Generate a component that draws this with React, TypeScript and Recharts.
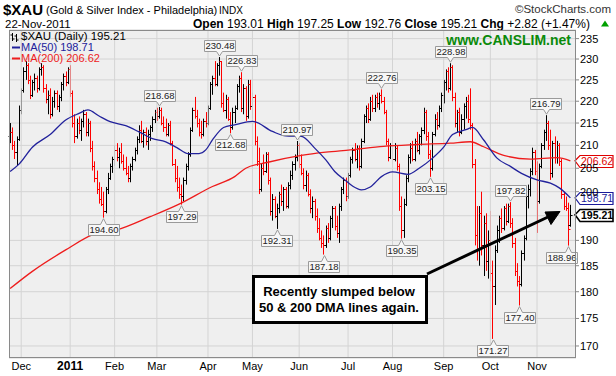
import React from 'react';
import { ComposedChart, Bar, Line, XAxis, YAxis, CartesianGrid, ReferenceLine, ReferenceDot } from 'recharts';

const FONT = '"Liberation Sans", Arial, Helvetica, sans-serif';
const W = 616;
const H = 376;
const PLOT_RIGHT = 576;

type OHLC = [number, number, number, number]; // open, high, low, close

const nov10: OHLC[] = [
  [212, 215, 210.5, 213], [213, 214, 209, 210], [210, 211, 207, 208.5], [208.5, 212, 205.5, 211.5], [211.5, 219, 211, 218],
];
const dec10: OHLC[] = [
  [218, 223, 217, 222.5], [222.5, 228, 222, 227], [227, 229.5, 225, 228.5], [228.5, 229, 224, 225], [225, 226, 220.5, 221.5],
  [221.5, 225, 221, 224.5], [224.5, 226.5, 222.5, 225.5], [225.5, 226, 222, 223], [223, 228, 222.5, 227.5], [227.5, 229, 226, 228],
  [228, 228.5, 222, 223], [223, 224, 219.5, 220.5], [220.5, 222.5, 217, 221.5], [221.5, 223, 216, 217], [217, 221, 216.5, 220],
  [220, 222.5, 218.5, 222], [222, 222.5, 218, 219], [219, 221.5, 217.5, 221], [221, 224.5, 220, 224], [224, 226.5, 222.5, 226],
  [226, 227, 223.5, 224.5], [224.5, 228, 224, 227.5],
];
const jan11: OHLC[] = [
  [227.5, 228.5, 221, 222], [222, 222.5, 214, 215], [215, 217, 210.5, 212], [212, 216, 211.5, 215], [215, 216.5, 212.5, 213.5],
  [213.5, 216, 211, 215.5], [215.5, 218, 214, 217], [217, 217.5, 212, 213], [213, 216, 212, 215], [215, 215.5, 208.5, 209.5],
  [209.5, 211, 204.5, 205.5], [205.5, 206.5, 202, 203], [203, 204.5, 199.5, 200.5], [200.5, 202, 197.5, 198.5], [198.5, 201, 197, 197.5],
  [197.5, 200, 194.6, 196], [196, 201, 195.5, 200.5], [200.5, 204, 199.5, 203], [203, 206, 202.5, 205.5], [205.5, 207.5, 204, 207],
];
const feb11: OHLC[] = [
  [207, 210, 205.5, 209], [209, 210.5, 206.5, 207.5], [207.5, 209.5, 205, 208.5], [208.5, 210.5, 206, 206.5], [206.5, 208, 204.5, 205],
  [205, 207.5, 203.5, 204], [204, 205.5, 202, 203], [203, 206, 202, 205.5], [205.5, 207.5, 204.5, 207], [207, 209.5, 206.5, 209],
  [209, 212, 208, 211.5], [211.5, 214.5, 210.5, 213.5], [213.5, 215.5, 210.5, 211], [211, 213.5, 209.5, 213], [213, 214, 210, 211],
  [211, 213.5, 209, 212.5], [212.5, 214.5, 211, 214], [214, 216.5, 213, 216], [216, 218, 215, 217.5],
];
const mar11: OHLC[] = [
  [217.5, 218.5, 215.5, 216.5], [216.5, 218.68, 216, 218], [218, 218.5, 214.5, 215], [215, 216.5, 213, 214], [214, 216, 212, 212.5],
  [212.5, 215, 212, 214.5], [214.5, 215.5, 210, 210.5], [210.5, 211, 205.5, 206], [206, 207, 202, 203], [203, 205.5, 200, 201],
  [201, 203, 198.5, 199.5], [199.5, 201.5, 197.29, 199], [199, 203, 198, 202.5], [202.5, 206, 201.5, 205.5], [205.5, 208.5, 204.5, 208],
  [208, 214, 207.5, 213.5], [213.5, 218.5, 213, 218], [218, 221, 216, 216.5], [216.5, 218, 214, 215], [215, 216, 212, 213],
  [213, 215.5, 211.5, 212.5], [212.5, 216, 212, 215.5], [215.5, 217.5, 214, 215],
];
const apr11: OHLC[] = [
  [215, 219, 214.5, 218.5], [218.5, 224.5, 218, 224], [224, 226, 221.5, 225.5], [225.5, 229.5, 223.5, 224], [224, 229, 223.5, 228.5],
  [228.5, 230.48, 226, 229.5], [229.5, 229.5, 218.5, 219.5], [219.5, 222, 217.5, 218], [218, 221.5, 216, 220.5], [220.5, 221, 215.5, 216],
  [216, 217.5, 212.68, 214], [214, 218.5, 213.5, 217.5], [217.5, 219, 215, 218.5], [218.5, 224, 218, 223.5], [223.5, 226, 222, 225.5],
  [225.5, 226.83, 217.5, 218.5], [218.5, 224, 217, 223], [223, 223.5, 215.5, 216.5], [216.5, 225, 216, 224], [224, 225, 218, 219],
];
const may11: OHLC[] = [
  [219, 222, 216, 221], [221, 221.5, 210, 211], [211, 212, 205.5, 206.5], [206.5, 209.5, 199.5, 200.5], [200.5, 206, 200, 205],
  [205, 208, 203.5, 204.5], [204.5, 208.5, 204, 208], [208, 208.5, 201.5, 202.5], [202.5, 203, 195, 196], [196, 199.5, 194, 198.5],
  [198.5, 199, 194.5, 195], [195, 197.5, 192.31, 196.5], [196.5, 200, 195.5, 199.5], [199.5, 201.5, 197, 198], [198, 201, 196, 200.5],
  [200.5, 201, 196.5, 197], [197, 202, 196.5, 201.5], [201.5, 204.5, 200.5, 203.5], [203.5, 206.5, 202.5, 206], [206, 208, 204.5, 207.5],
  [207.5, 210.97, 206.5, 210],
];
const jun11: OHLC[] = [
  [210, 210.5, 205, 206], [206, 208, 203.5, 204], [204, 205, 200.5, 201.5], [201.5, 204.5, 200, 203.5], [203.5, 204, 199, 199.5],
  [199.5, 200.5, 195.5, 196.5], [196.5, 199, 194.5, 198], [198, 198.5, 194, 195], [195, 196.5, 191.5, 192.5], [192.5, 194.5, 190, 190.5],
  [190.5, 192, 188.5, 189.5], [189.5, 191, 187.18, 189], [189, 193, 188.5, 192.5], [192.5, 193.5, 189.5, 190.5], [190.5, 195, 190, 194.5],
  [194.5, 197, 192.5, 196.5], [196.5, 197, 192, 193], [193, 195, 190.5, 191.5], [191.5, 197.5, 189.5, 197], [197, 201, 196, 200.5],
  [200.5, 203, 199.5, 202.5], [202.5, 203, 198, 199],
];
const jul11: OHLC[] = [
  [199, 204, 198.5, 203.5], [203.5, 207.5, 203, 207], [207, 209.5, 206, 209], [209, 210.5, 206.5, 207], [207, 210, 205, 209.5],
  [209.5, 210, 204.5, 205.5], [205.5, 211.5, 205, 211], [211, 217, 210.5, 216.5], [216.5, 219, 215, 218.5], [218.5, 219.5, 215, 216],
  [216, 221, 215.5, 220], [220, 221.5, 217.5, 218.5], [218.5, 221.5, 217.5, 221], [221, 222, 218.5, 219.5], [219.5, 222, 218, 221.5],
  [221.5, 222.76, 219.5, 220], [220, 221, 217, 217.5], [217.5, 218, 210, 211], [211, 211.5, 206.5, 207.5], [207.5, 210.5, 207, 210],
];
const aug11: OHLC[] = [
  [210, 211, 206, 207], [207, 210.5, 206.5, 209.5], [209.5, 210, 204.5, 205.5], [205.5, 206, 196, 197], [197, 199, 190.35, 192],
  [192, 198.5, 190.5, 197.5], [197.5, 203.5, 197, 203], [203, 208, 202, 207.5], [207.5, 210.5, 206, 209.5], [209.5, 211, 206.5, 207],
  [207, 211.5, 206.5, 211], [211, 213, 208.5, 209], [209, 212.5, 208, 212], [212, 214, 210, 213.5], [213.5, 218.5, 212.5, 217.5],
  [217.5, 218, 211, 212], [212, 213, 207, 208], [208, 209, 203.15, 205], [205, 213, 204.5, 212.5], [212.5, 217, 212, 216],
  [216, 217.5, 213.5, 214.5], [214.5, 219, 214, 218.5], [218.5, 222, 217.5, 221.5],
];
const sep11: OHLC[] = [
  [221.5, 225, 219.5, 224.5], [224.5, 227.5, 222.5, 227], [227, 228, 222, 223], [223, 228.98, 222.5, 228], [228, 228.5, 220, 221],
  [221, 222, 214, 215], [215, 218, 213, 217.5], [217.5, 218.5, 212, 213], [213, 217, 212.5, 216], [216, 219.5, 213.5, 219],
  [219, 221, 216, 220], [220, 221.5, 215, 216], [216, 223, 213.5, 214.5], [214.5, 215, 205, 206], [206, 207, 189, 191],
  [191, 197, 186, 188], [188, 197, 185, 195.5], [195.5, 200, 187, 189], [189, 195, 183, 193.5], [193.5, 195.5, 184, 186],
  [186, 192, 182.5, 190],
];
const oct11: OHLC[] = [
  [190, 196, 182, 183.5], [183.5, 186, 171.27, 181], [181, 189, 177.5, 188], [188, 193, 187.5, 192], [192, 195, 189.5, 194.5],
  [194.5, 196.5, 191.5, 192.5], [192.5, 197, 192, 196.5], [196.5, 197.5, 193, 194], [194, 197.5, 193.5, 197], [197, 197.82, 192.5, 193.5],
  [193.5, 194.5, 188.5, 189.5], [189.5, 190.5, 183, 184], [184, 185.5, 181, 182], [182, 183, 177.4, 181.5], [181.5, 188, 181, 187.5],
  [187.5, 191, 186, 190.5], [190.5, 199.5, 190, 199], [199, 201.5, 196.5, 200.5], [200.5, 205, 199, 204.5], [204.5, 209.5, 203.5, 208.5],
  [208.5, 209, 203.5, 204.5],
];
const nov11: OHLC[] = [
  [204.5, 206.5, 191.5, 198], [198, 206, 197.5, 205.5], [205.5, 210.5, 205, 210], [210, 213.5, 209, 213], [213, 216.79, 211, 215],
  [215, 215.5, 209, 210], [210, 213.5, 202.5, 204], [204, 211, 203, 210.5], [210.5, 212, 206, 207.5], [207.5, 211, 206, 210],
  [210, 210.5, 205.5, 206.5], [206.5, 207, 198.5, 199.5], [199.5, 200, 196.2, 197], [197, 199, 196, 196.5], [196.5, 197.7, 188.96, 192.39],
  [193.01, 197.25, 192.76, 195.21],
];

const monthStart = [5, 27, 47, 66, 89, 109, 130, 152, 172, 195, 216, 237];
const monthLabels = ['Dec', '2011', 'Feb', 'Mar', 'Apr', 'May', 'Jun', 'Jul', 'Aug', 'Sep', 'Oct', 'Nov'];
const yTicks = [170, 175, 180, 185, 190, 195, 200, 205, 210, 215, 220, 225, 230, 235];
const hiddenTickLabels = [195]; // covered by the last-close tag in the reference

// moving averages at sample bars: [bar index, value]
const ma50Pts: [number, number][] = [
  [0, 204.3], [4, 205.9], [10, 209.6], [18, 212.4], [25, 215.7], [31, 217.2], [35, 218.0], [40, 216.6], [45, 215.3],
  [52, 214.4], [58, 213.0], [64, 211.5], [70, 210.8], [75, 209.5], [80, 208.2], [85, 208.2], [88, 209.0], [91, 211.2],
  [96, 214.0], [101, 214.6], [109, 215.4], [118, 213.1], [124, 212.1], [131, 212.0], [137, 209.4], [142, 206.8],
  [146, 204.3], [151, 202.3], [154, 201.2], [158, 200.4], [162, 201.0], [167, 203.2], [172, 204.2], [179, 203.7],
  [184, 205.0], [190, 207.2], [195, 209.6], [199, 212.4], [205, 213.5], [208, 214.0], [213, 211.2], [219, 207.2],
  [225, 205.4], [230, 203.9], [237, 202.5], [243, 201.8], [247, 200.8], [252, 198.71],
];
const ma200Pts: [number, number][] = [
  [0, 180.6], [10, 183.9], [25, 188.1], [37, 191.1], [48, 192.1], [63, 194.8], [76, 197.4], [91, 201.1], [101, 203.2],
  [106, 205.0], [116, 206.3], [131, 207.8], [142, 208.5], [153, 209.0], [168, 209.8], [183, 210.2], [198, 210.5],
  [207, 210.8], [213, 209.7], [222, 207.8], [234, 207.0], [246, 207.3], [252, 206.62],
];

const peaks: { i: number; v: number; kind: 'high' | 'low' }[] = [
  { i: 42, v: 194.6, kind: 'low' }, { i: 67, v: 218.68, kind: 'high' }, { i: 77, v: 197.29, kind: 'low' },
  { i: 94, v: 230.48, kind: 'high' }, { i: 99, v: 212.68, kind: 'low' }, { i: 104, v: 226.83, kind: 'high' },
  { i: 120, v: 192.31, kind: 'low' }, { i: 129, v: 210.97, kind: 'high' }, { i: 141, v: 187.18, kind: 'low' },
  { i: 167, v: 222.76, kind: 'high' }, { i: 176, v: 190.35, kind: 'low' }, { i: 189, v: 203.15, kind: 'low' },
  { i: 198, v: 228.98, kind: 'high' }, { i: 217, v: 171.27, kind: 'low' }, { i: 225, v: 197.82, kind: 'high' },
  { i: 229, v: 177.4, kind: 'low' }, { i: 241, v: 216.79, kind: 'high' }, { i: 251, v: 188.96, kind: 'low' },
];

const lastClose = 195.21;
const lastMa50 = 198.71;
const lastMa200 = 206.62;

const allBars: OHLC[] = [
  ...nov10, ...dec10, ...jan11, ...feb11, ...mar11, ...apr11, ...may11, ...jun11, ...jul11, ...aug11, ...sep11, ...oct11, ...nov11,
];

const data: any[] = allBars.map(([o, h, l, c], i) => ({
  i,
  range: [l, h],
  o, h, l, c,
  up: i === 0 ? c >= o : c >= allBars[i - 1][3],
  ma50: null,
  ma200: null,
}));
ma50Pts.forEach(([i, v]) => { data[i].ma50 = v; });
ma200Pts.forEach(([i, v]) => { data[i].ma200 = v; });

const OhlcShape = (props: any) => {
  const { x, y, width, height, payload } = props;
  if (x == null || y == null || !payload) return null;
  const top = Math.min(y, y + height);
  const bot = Math.max(y, y + height);
  const cx = Math.round(x + width / 2) + 0.5;
  const lnH = Math.log(payload.h);
  const lnL = Math.log(payload.l);
  const yOf = (v: number) => (lnH === lnL ? top : top + ((lnH - Math.log(v)) / (lnH - lnL)) * (bot - top));
  const color = payload.up ? '#000000' : '#ff0000';
  const yo = Math.round(yOf(payload.o)) + 0.5;
  const yc = Math.round(yOf(payload.c)) + 0.5;
  return (
    <g stroke={color} strokeWidth={1} fill="none">
      <line x1={cx} x2={cx} y1={top} y2={bot} />
      <line x1={cx - 2} x2={cx} y1={yo} y2={yo} />
      <line x1={cx} x2={cx + 2} y1={yc} y2={yc} />
    </g>
  );
};

const MonthTick = (props: any) => {
  const { x, y, payload } = props;
  const k = monthStart.indexOf(Number(payload?.value));
  if (k < 0) return <g />;
  return (
    <text x={x} y={y + 12} textAnchor="middle" fontFamily={FONT} fontSize={k === 1 ? 12 : 11}
      fontWeight={k === 1 ? 'bold' : 'normal'} fill="#000">{monthLabels[k]}</text>
  );
};

const PriceTick = (props: any) => {
  const { x, y, payload } = props;
  const v = Number(payload?.value);
  if (hiddenTickLabels.includes(v)) return <g />;
  return (
    <text x={x} y={y + 4} textAnchor="start" fontFamily={FONT} fontSize={11} fill="#000">{v}</text>
  );
};

const PeakLabel = ({ cx, cy, v, kind }: any) => {
  if (cx == null || cy == null) return null;
  const w = 31;
  const h = 11;
  let bx = cx - w / 2;
  bx = Math.max(10, Math.min(bx, PLOT_RIGHT + 1 - w));
  bx = Math.round(bx) + 0.5;
  const px = Math.round(cx) + 0.5;
  let d: string;
  let by: number;
  if (kind === 'high') {
    by = Math.round(cy - 6 - h) + 0.5;
    const tip = cy - 1;
    d = `M${bx},${by} H${bx + w} V${by + h} H${px + 3} L${px},${tip} L${px - 3},${by + h} H${bx} Z`;
  } else {
    by = Math.round(cy + 6) + 0.5;
    const tip = cy + 1;
    d = `M${bx},${by} H${px - 3} L${px},${tip} L${px + 3},${by} H${bx + w} V${by + h} H${bx} Z`;
  }
  return (
    <g>
      <path d={d} fill="#f7f7f7" stroke="#9a9a9a" strokeWidth={1} />
      <text x={bx + w / 2} y={by + 8.5} textAnchor="middle" fontFamily={FONT} fontSize={9.5} fill="#222">{v.toFixed(2)}</text>
    </g>
  );
};

const ValueTag = ({ cy, v, color, bold }: any) => {
  if (cy == null) return null;
  const x0 = PLOT_RIGHT - 1;
  const w = 38;
  const h = 12;
  const t = Math.round(cy - h / 2) + 0.5;
  const d = `M${x0},${cy} L${x0 + 5},${t} H${x0 + w} V${t + h} H${x0 + 5} Z`;
  return (
    <g>
      <path d={d} fill="#ffffff" stroke={color} strokeWidth={bold ? 1.6 : 1.2} />
      <text x={x0 + 6} y={cy + 4} fontFamily={FONT} fontSize={10.5} fontWeight={bold ? 'bold' : 'normal'} fill={color}>{v.toFixed(2)}</text>
    </g>
  );
};

const Overlay = () => (
  <svg width={W} height={H} style={{ position: 'absolute', left: 0, top: 0, pointerEvents: 'none' }}>
    <text x={3} y={15} fontFamily={FONT} fontSize={15} fontWeight="bold" fill="#000">$XAU</text>
    <text x={46} y={14} fontFamily={FONT} fontSize={11} fill="#000">(Gold &amp; Silver Index - Philadelphia)</text>
    <text x={219} y={14} fontFamily={FONT} fontSize={10} fill="#000">INDX</text>
    <text x={611} y={13} textAnchor="end" fontFamily={FONT} fontSize={11.5} fill="#333">©StockCharts.com</text>
    <text x={5} y={27.5} fontFamily={FONT} fontSize={11.5} fill="#000">22-Nov-2011</text>
    <text x={193} y={27.5} fontFamily={FONT} fontSize={12} fill="#000">
      <tspan fontWeight="bold">Open</tspan><tspan> 193.01 </tspan>
      <tspan fontWeight="bold">High</tspan><tspan> 197.25 </tspan>
      <tspan fontWeight="bold">Low</tspan><tspan> 192.76 </tspan>
      <tspan fontWeight="bold">Close</tspan><tspan> 195.21 </tspan>
      <tspan fontWeight="bold">Chg</tspan><tspan> +2.82 (+1.47%)</tspan>
    </text>
    <path d="M601,26.5 L605,20.5 L609,26.5 Z" fill="#00a000" />
    <rect x={9.5} y={30.5} width={566} height={327} fill="none" stroke="#8a8a8a" strokeWidth={1} />
    <path d="M12.5,33 V41 M10.5,35 H12.5 M12.5,39 H14.5 M16.5,34 V42 M14.5,36 H16.5 M16.5,40 H18.5" stroke="#000" strokeWidth={1} />
    <text x={21} y={40} fontFamily={FONT} fontSize={11.5} fill="#000">$XAU (Daily) 195.21</text>
    <line x1={12} x2={20} y1={47.5} y2={47.5} stroke="#22229c" strokeWidth={2} />
    <text x={21} y={51} fontFamily={FONT} fontSize={11} fill="#22229c">MA(50) {lastMa50.toFixed(2)}</text>
    <line x1={12} x2={20} y1={58.5} y2={58.5} stroke="#ee1c1c" strokeWidth={2} />
    <text x={21} y={62} fontFamily={FONT} fontSize={11} fill="#ee1c1c">MA(200) {lastMa200.toFixed(2)}</text>
    <text x={571} y={44.5} textAnchor="end" fontFamily={FONT} fontSize={14} fontWeight="bold" fill="#0a8a0a">www.CANSLIM.net</text>
    <line x1={427} y1={274} x2={549} y2={216.5} stroke="#000" strokeWidth={3} />
    <path d="M560,211.5 L545,212 L551,224.5 Z" fill="#000" stroke="#000" strokeWidth={1} />
    <rect x={253.5} y={276.5} width={173} height={46} fill="#ffffff" stroke="#000" strokeWidth={3} />
    <text x={339} y={296} textAnchor="middle" fontFamily={FONT} fontSize={13} fontWeight="bold" fill="#000">Recently slumped below</text>
    <text x={339} y={312} textAnchor="middle" fontFamily={FONT} fontSize={13} fontWeight="bold" fill="#000">50 &amp; 200 DMA lines again.</text>
  </svg>
);

export default function App() {
  return (
    <div style={{ position: 'absolute', left: 0, top: 0, width: W, height: H, background: '#ffffff' }}>
      <ComposedChart width={W} height={H} data={data} margin={{ top: 30, right: 0, bottom: 0, left: 9 }}>
        <CartesianGrid vertical={false} stroke="#d4d4d4" fill="#efefef" fillOpacity={1} />
        <XAxis dataKey="i" type="category" interval={0} tick={<MonthTick />} tickLine={false} axisLine={false}
          tickSize={0} tickMargin={0} height={18} padding={{ left: 0, right: 4.5 }} />
        <YAxis orientation="right" type="number" scale="log" domain={[167.86, 237.14]} allowDataOverflow
          ticks={yTicks} interval={0} width={40} axisLine={false} tickLine={{ stroke: '#888' }} tickSize={3} tickMargin={1}
          tick={<PriceTick />} />
        {monthStart.map((m) => (
          <ReferenceLine key={`v${m}`} x={m} stroke="#d4d4d4" strokeWidth={1} />
        ))}
        <Bar dataKey="range" shape={OhlcShape} isAnimationActive={false} barSize={2} />
        <Line dataKey="ma200" type="monotone" stroke="#ee1c1c" strokeWidth={1.3} dot={false} connectNulls isAnimationActive={false} />
        <Line dataKey="ma50" type="monotone" stroke="#22229c" strokeWidth={1.3} dot={false} connectNulls isAnimationActive={false} />
        {peaks.map((p) => (
          <ReferenceDot key={`p${p.i}`} x={p.i} y={p.v} r={0}
            shape={(sp: any) => <PeakLabel cx={sp.cx} cy={sp.cy} v={p.v} kind={p.kind} />} />
        ))}
        <ReferenceDot x={252} y={lastMa200} r={0} shape={(sp: any) => <ValueTag cy={sp.cy} v={lastMa200} color="#e00000" />} />
        <ReferenceDot x={252} y={lastMa50} r={0} shape={(sp: any) => <ValueTag cy={sp.cy} v={lastMa50} color="#1a1a9a" />} />
        <ReferenceDot x={252} y={lastClose} r={0} shape={(sp: any) => <ValueTag cy={sp.cy} v={lastClose} color="#000000" bold />} />
      </ComposedChart>
      <Overlay />
    </div>
  );
}
